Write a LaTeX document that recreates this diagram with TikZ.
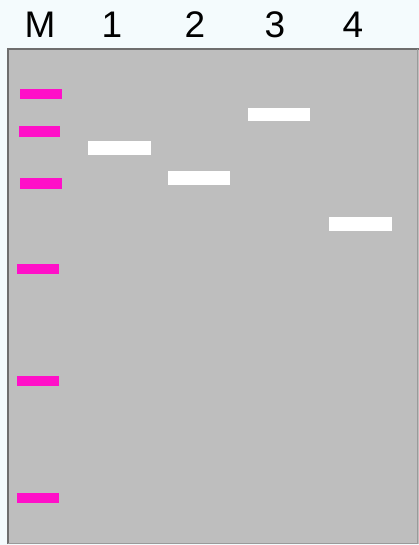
\documentclass[tikz,border=0pt]{standalone}
\usepackage{fontspec}
\setmainfont{Liberation Sans}
\definecolor{bgc}{HTML}{F4FBFD}
\definecolor{gelc}{HTML}{BEBEBE}
\definecolor{edgec}{HTML}{6E6E6E}
\definecolor{mark}{HTML}{FF10C8}
\begin{document}
\begin{tikzpicture}[x=1pt,y=-1pt,
  lbl/.style={font=\fontsize{37}{37}\selectfont, anchor=base, inner sep=0pt},
  mband/.style={fill=mark, draw=none},
  sband/.style={fill=white, draw=none}]
\fill[bgc] (0,0) rectangle (419,545);
\useasboundingbox (0,0) rectangle (419,545);
\fill[gelc] (7,48) rectangle (419,544);
\draw[edgec, line width=2pt] (8,544) -- (8,49) -- (419,49);
\draw[edgec!70, line width=1pt] (417,49) -- (417,543) -- (8,543);
% labels
\node[lbl] (lM) at (40,38) {M};
\node[lbl] (l1) at (112,38) {1};
\node[lbl] (l2) at (195,38) {2};
\node[lbl] (l3) at (275,38) {3};
\node[lbl] (l4) at (353,38) {4};
% marker bands
\fill[mband] (20,89) rectangle (62,99);
\fill[mband] (19,126) rectangle (60,137);
\fill[mband] (20,178) rectangle (62,189);
\fill[mband] (17,264) rectangle (59,274);
\fill[mband] (17,376) rectangle (59,386);
\fill[mband] (17,493) rectangle (59,503);
% sample bands
\fill[sband] (88,141) rectangle (151,155);
\fill[sband] (168,171) rectangle (230,185);
\fill[sband] (248,108) rectangle (310,121);
\fill[sband] (329,217) rectangle (392,231);
\end{tikzpicture}
\end{document}
